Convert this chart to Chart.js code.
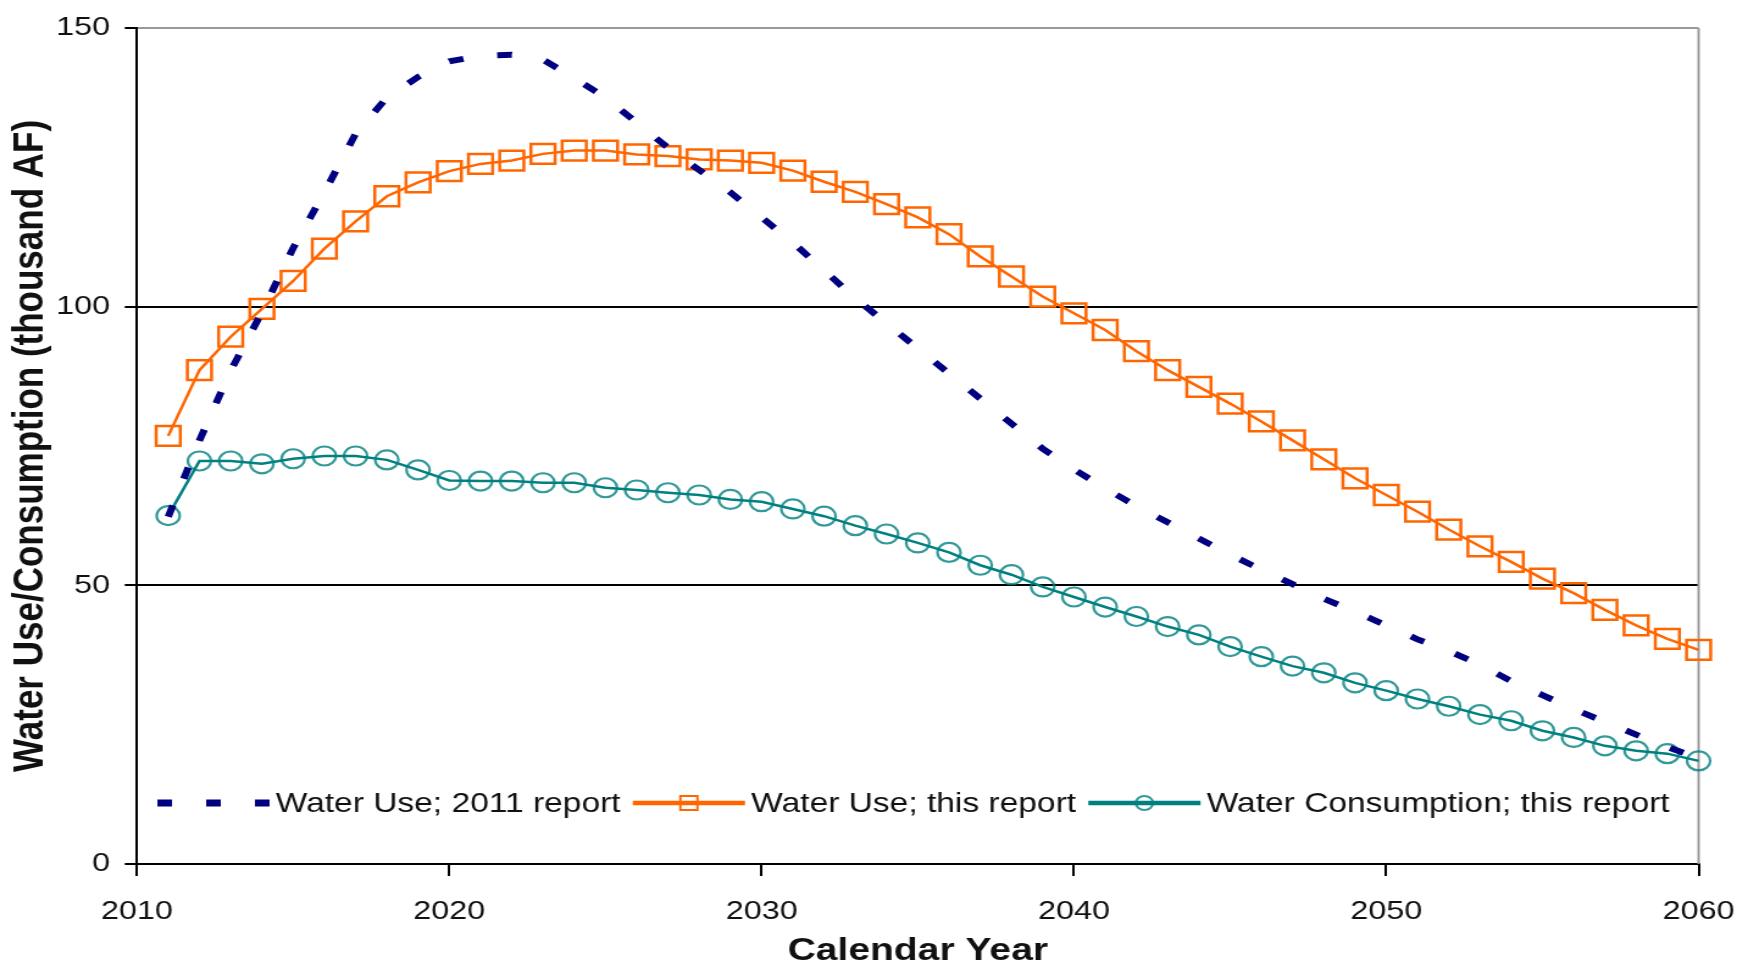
<!DOCTYPE html>
<html>
<head>
<meta charset="utf-8">
<script src="https://cdn.jsdelivr.net/npm/chart.js@4.4.0/dist/chart.umd.min.js"></script>
<style>
  html, body { margin: 0; padding: 0; background: #fff; overflow: hidden; }
  /* the reference picture is stretched sideways, so draw narrower and widen */
  #wrap { width: 1442px; height: 970px; transform: scaleX(1.2198); transform-origin: 0 0; }
</style>
</head>
<body>
<div id="wrap"><canvas id="myChart" width="1442" height="970"></canvas></div>
<script>
const years = [2011, 2012, 2013, 2014, 2015, 2016, 2017, 2018, 2019, 2020,
               2021, 2022, 2023, 2024, 2025, 2026, 2027, 2028, 2029, 2030,
               2031, 2032, 2033, 2034, 2035, 2036, 2037, 2038, 2039, 2040,
               2041, 2042, 2043, 2044, 2045, 2046, 2047, 2048, 2049, 2050,
               2051, 2052, 2053, 2054, 2055, 2056, 2057, 2058, 2059, 2060];

const seriesNames = ['Water Use; 2011 report', 'Water Use; this report', 'Water Consumption; this report'];

const use2011 = [62.3, 76, 88.5, 99, 110.5, 120.5, 131, 137.5, 141.2, 144,
                 145, 145.2, 144.3, 141, 137.5, 133, 128.5, 124.5, 120.5, 116,
                 111.5, 106.5, 101.5, 97, 92.5, 88, 83.5, 79, 74.5, 70.8,
                 67.4, 64.2, 61.3, 58.4, 55.5, 52.8, 50.2, 47.6, 45.3, 42.8,
                 40.3, 38.2, 35.8, 32.8, 30.3, 27.8, 25.5, 23.2, 21, 19];

const useThis = [76.8, 88.6, 94.6, 99.6, 104.6, 110.4, 115.3, 119.8, 122.3, 124.3,
                 125.6, 126.2, 127.4, 128, 128, 127.3, 127, 126.4, 126.2, 125.8,
                 124.4, 122.4, 120.6, 118.4, 116, 113, 109, 105.4, 101.8, 98.8,
                 95.8, 92, 88.6, 85.6, 82.6, 79.4, 76, 72.6, 69.2, 66.2,
                 63.2, 60, 57, 54.2, 51.2, 48.6, 45.6, 42.8, 40.4, 38.4];

const consumption = [62.5, 72.3, 72.3, 71.8, 72.7, 73.2, 73.2, 72.5, 70.7, 68.8,
                     68.7, 68.7, 68.4, 68.4, 67.5, 67.1, 66.6, 66.2, 65.4, 65.0,
                     63.7, 62.4, 60.7, 59.2, 57.6, 55.9, 53.6, 51.9, 49.7, 47.9,
                     46.1, 44.4, 42.6, 41.1, 39.0, 37.2, 35.5, 34.3, 32.5, 31.1,
                     29.6, 28.3, 26.8, 25.7, 23.9, 22.7, 21.2, 20.3, 19.8, 18.5];

const xTicks = [2010, 2020, 2030, 2040, 2050, 2060];
const yTicks = [0, 50, 100, 150];

const textColor = '#111';
Chart.defaults.font.family = '"Liberation Sans", Arial, sans-serif';

const toPoints = vals => years.map((yr, i) => ({x: yr, y: vals[i]}));

// gray frame line on the right side of the plot
const framePlugin = {
  id: 'frame',
  beforeDatasetsDraw(chart) {
    const {ctx, chartArea: a} = chart;
    ctx.save();
    ctx.strokeStyle = '#999';
    ctx.lineWidth = 2;
    ctx.beginPath();
    ctx.moveTo(a.right, a.top);
    ctx.lineTo(a.right, a.bottom);
    ctx.stroke();
    ctx.restore();
  }
};

// legend drawn inside the plot, one row at the bottom
const legendPlugin = {
  id: 'insideLegend',
  afterDatasetsDraw(chart, args, opts) {
    const ctx = chart.ctx;
    const y = opts.y;
    let x = opts.x;
    ctx.save();
    ctx.font = `${opts.fontSize}px "Liberation Sans", Arial, sans-serif`;
    ctx.textBaseline = 'middle';
    ctx.textAlign = 'left';
    chart.data.datasets.forEach(ds => {
      const w = opts.sampleWidth;
      ctx.strokeStyle = ds.borderColor;
      ctx.setLineDash(ds.borderDash || []);
      ctx.lineWidth = ds.pointRadius ? opts.lineWidth : ds.borderWidth + 1;
      ctx.beginPath();
      ctx.moveTo(x, y);
      ctx.lineTo(x + w, y);
      ctx.stroke();
      ctx.setLineDash([]);
      if (ds.pointRadius) {
        const cx = x + w / 2;
        ctx.lineWidth = 2;
        ctx.strokeStyle = ds.pointBorderColor;
        ctx.beginPath();
        if (ds.pointStyle === 'rect') {
          ctx.rect(cx - opts.markSize / 2, y - opts.markSize / 2, opts.markSize, opts.markSize);
        } else {
          ctx.arc(cx, y, opts.markSize / 2, 0, Math.PI * 2);
        }
        ctx.stroke();
      }
      x += w + opts.textGap;
      ctx.fillStyle = textColor;
      ctx.fillText(ds.label, x, y + 1);
      x += ctx.measureText(ds.label).width + opts.itemGap;
    });
    ctx.restore();
  }
};

const ctx = document.getElementById('myChart');
const myChart = new Chart(ctx, {
  type: 'line',
  data: {
    datasets: [
      {
        label: seriesNames[0],
        data: toPoints(use2011),
        borderColor: '#000080',
        borderWidth: 6,
        borderDash: [12, 28],
        pointRadius: 0,
        fill: false,
        clip: false
      },
      {
        label: seriesNames[1],
        data: toPoints(useThis),
        borderColor: '#ff6600',
        borderWidth: 2.5,
        pointStyle: 'rect',
        pointRadius: 14,
        pointBorderWidth: 2.5,
        pointBorderColor: '#ff6600',
        pointBackgroundColor: 'rgba(0,0,0,0)',
        fill: false,
        clip: false
      },
      {
        label: seriesNames[2],
        data: toPoints(consumption),
        borderColor: '#008080',
        borderWidth: 2.5,
        pointStyle: 'circle',
        pointRadius: 9.5,
        pointBorderWidth: 2.2,
        pointBorderColor: 'rgba(0,128,128,0.8)',
        pointBackgroundColor: 'rgba(0,0,0,0)',
        fill: false,
        clip: false
      }
    ]
  },
  options: {
    responsive: false,
    animation: false,
    devicePixelRatio: 1,
    layout: { padding: { top: 22, right: 48.6, left: 0, bottom: 0 } },
    plugins: {
      legend: { display: false },
      tooltip: { enabled: false },
      insideLegend: { x: 129, y: 803, fontSize: 27.5, sampleWidth: 92, textGap: 5, itemGap: 10, lineWidth: 4.5, markSize: 14 }
    },
    scales: {
      x: {
        type: 'linear',
        min: 2010,
        max: 2060,
        afterBuildTicks: s => { s.ticks = xTicks.map(v => ({value: v})); },
        afterFit: s => { s.height = 106; },
        ticks: {
          callback: v => String(v),
          color: textColor,
          font: { size: 26.5 },
          padding: 20,
          maxRotation: 0,
          autoSkip: false
        },
        grid: { drawOnChartArea: false, tickLength: 12, tickColor: '#000', lineWidth: 2 },
        border: { color: '#000', width: 2 },
        title: {
          display: true,
          text: 'Calendar Year',
          color: textColor,
          font: { size: 32, weight: 'bold' },
          padding: { top: 0, bottom: 0 }
        }
      },
      y: {
        min: 0,
        max: 150,
        afterBuildTicks: s => { s.ticks = yTicks.map(v => ({value: v})); },
        afterFit: s => { s.width = 112.3; },
        ticks: {
          color: textColor,
          font: { size: 26.5 },
          padding: 12
        },
        grid: {
          color: c => (c.tick && c.tick.value === 150) ? '#999' : '#000',
          lineWidth: 2,
          tickLength: 10,
          tickColor: '#000'
        },
        border: { color: '#000', width: 2 },
        title: {
          display: true,
          text: 'Water Use/Consumption (thousand AF)',
          color: textColor,
          font: { size: 35, weight: 'bold' },
          padding: { top: 4, bottom: 0 }
        }
      }
    }
  },
  plugins: [framePlugin, legendPlugin]
});
</script>
</body>
</html>
